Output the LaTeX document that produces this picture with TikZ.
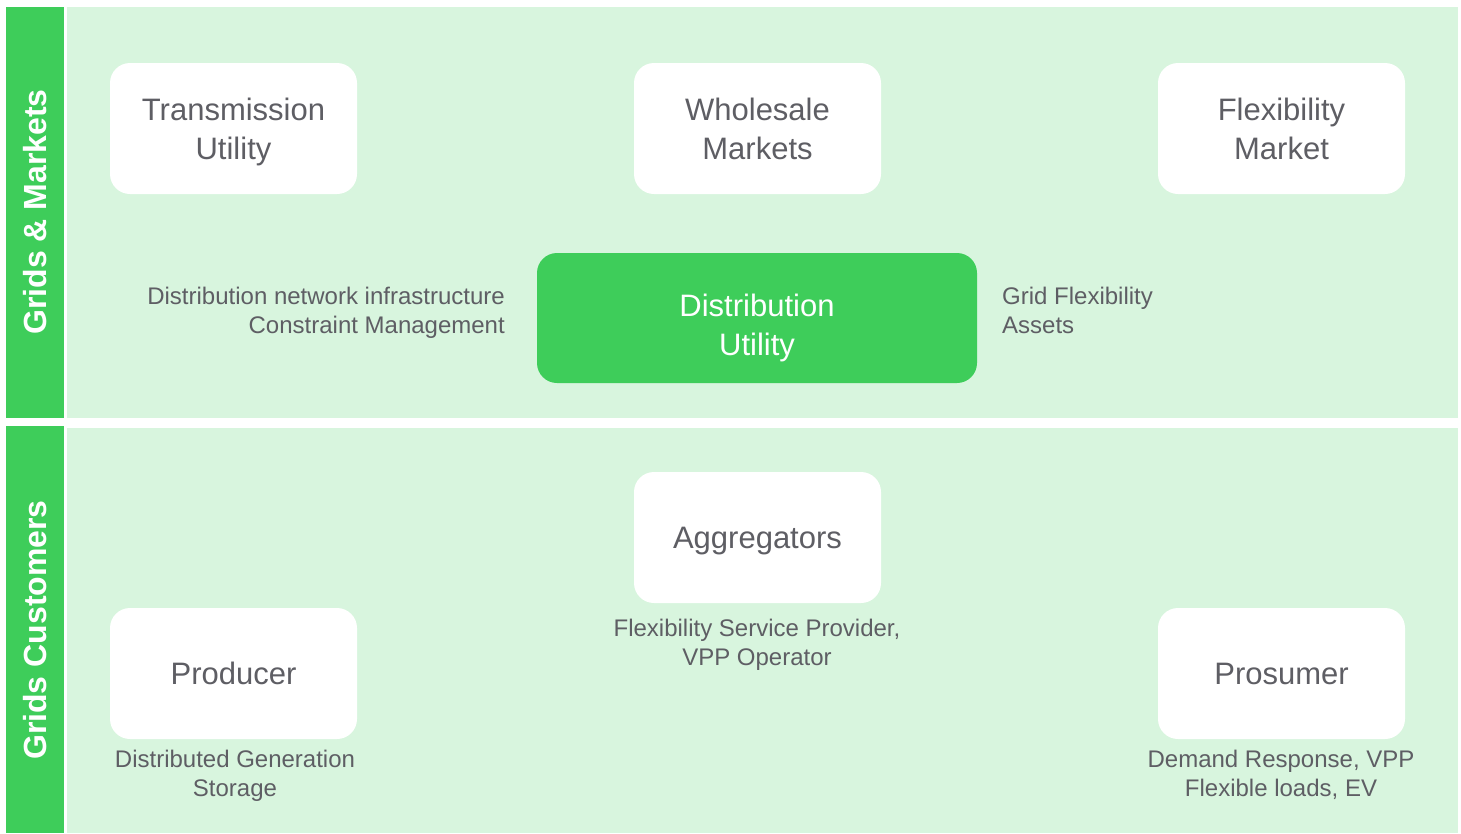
\documentclass[tikz,border=0pt]{standalone}
\usepackage{fontspec}
\setmainfont{Liberation Sans}
\usetikzlibrary{positioning}
\definecolor{gridgreen}{RGB}{62,205,90}
\definecolor{panelgreen}{RGB}{216,245,222}
\definecolor{textgray}{RGB}{94,94,100}

\begin{document}
\begin{tikzpicture}[
    x=1pt, y=-1pt,
    every node/.style={align=center, text=textgray},
    bar/.style={fill=gridgreen, draw=none},
    panel/.style={fill=panelgreen, draw=none},
    barlabel/.style={rotate=90, text=white, font=\bfseries\fontsize{32}{38}\selectfont},
    actor/.style={rectangle, rounded corners=20pt, fill=white, minimum width=247pt, minimum height=131pt, inner sep=0pt, text depth=0pt, font=\fontsize{31}{39}\selectfont},
    utility/.style={actor, fill=gridgreen, text=white, minimum width=440pt, minimum height=130pt, text height=75pt},
    note/.style={font=\fontsize{24}{29}\selectfont, inner sep=0pt}
]

% --- Fondo y bandas
\useasboundingbox (0,0) rectangle (1461,833);
\fill[white] (0,0) rectangle (1461,833);
\draw[bar] (6,7) rectangle (64,418);
\draw[bar] (6,426) rectangle (64,833);
\draw[panel] (67,7) rectangle (1458,418);
\draw[panel] (67,428) rectangle (1458,833);
\node[barlabel] (gridsmarkets) at (35,212) {Grids \& Markets};
\node[barlabel] (gridscustomers) at (35,630) {Grids Customers};

% --- Nivel superior (redes y mercados)
\node[actor] (transmission) at (233.5,128.5) {Transmission\\Utility};
\node[actor] (wholesale) at (757.5,128.5) {Wholesale\\Markets};
\node[actor] (flexmarket) at (1281.5,128.5) {Flexibility\\Market};
\node[utility] (distribution) at (757,318) {Distribution\\Utility};
\node[note, align=right, anchor=east] (infrastructure) at (505,313) {Distribution network infrastructure\\Constraint Management};
\node[note, align=left, anchor=west] (gridassets) at (1002,310) {Grid Flexibility\\Assets};

% --- Nivel inferior (clientes)
\node[actor] (aggregators) at (757.5,537.5) {Aggregators};
\node[actor] (producer) at (233.5,673.5) {Producer};
\node[actor] (prosumer) at (1281.5,673.5) {Prosumer};
\node[note] (fsp) at (757,645) {Flexibility Service Provider,\\VPP Operator};
\node[note] (generation) at (235,776) {Distributed Generation\\Storage};
\node[note] (demand) at (1281,775) {Demand Response, VPP\\Flexible loads, EV};

\end{tikzpicture}
\end{document}
